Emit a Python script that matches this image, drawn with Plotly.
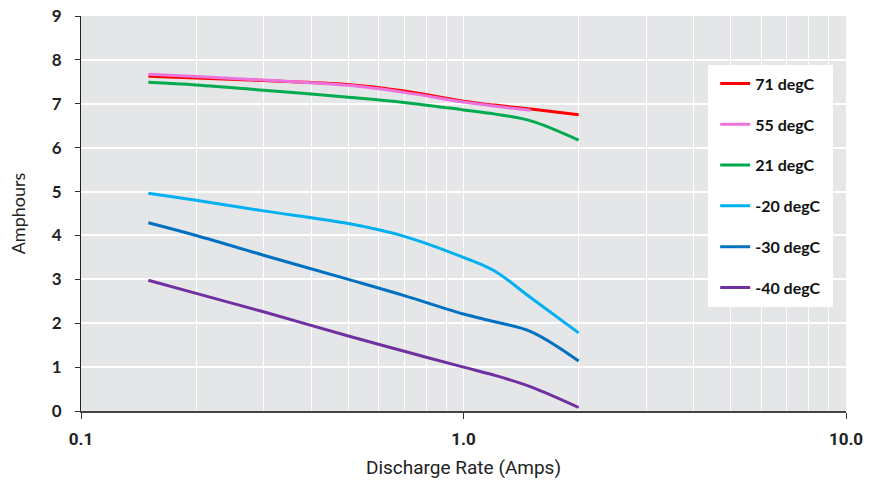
import plotly.graph_objects as go

# Discharge rate (A) at which capacity was measured
rate = [0.15, 0.2, 0.3, 0.5, 0.7, 1.0, 1.2, 1.5, 2.0]
rate_55 = [0.15, 0.2, 0.3, 0.5, 0.7, 1.0, 1.2, 1.5]

# Capacity (Ah) per temperature
ah_71 = [7.63, 7.59, 7.53, 7.44, 7.29, 7.06, 6.97, 6.88, 6.75]
ah_55 = [7.67, 7.62, 7.54, 7.42, 7.26, 7.04, 6.95, 6.85]
ah_21 = [7.49, 7.43, 7.31, 7.15, 7.03, 6.86, 6.77, 6.61, 6.17]
ah_m20 = [4.96, 4.80, 4.56, 4.27, 3.98, 3.50, 3.20, 2.58, 1.78]
ah_m30 = [4.29, 4.00, 3.55, 3.00, 2.63, 2.21, 2.04, 1.81, 1.14]
ah_m40 = [2.98, 2.68, 2.26, 1.71, 1.36, 1.00, 0.82, 0.55, 0.08]

series = [
    ("71 degC", rate, ah_71, "#ff0000"),
    ("55 degC", rate_55, ah_55, "#ee72dc"),
    ("21 degC", rate, ah_21, "#00aa4e"),
    ("-20 degC", rate, ah_m20, "#00b0f0"),
    ("-30 degC", rate, ah_m30, "#0070c0"),
    ("-40 degC", rate, ah_m40, "#7030a0"),
]

x_ticks = [0.1, 1, 10]
x_ticktext = ["0.1", "1.0", "10.0"]
x_minor = [m * d for d in (0.1, 1) for m in range(2, 10)]
y_ticks = list(range(0, 10))

fig = go.Figure()
for i, (name, xs, ys, col) in enumerate(series):
    fig.add_trace(go.Scatter(
        x=xs, y=ys, name=name, mode="lines",
        line=dict(color=col, width=3, shape="spline", smoothing=1.0),
        legendgroup=f"g{i}",
    ))

# white panel behind the legend entries
fig.add_shape(
    type="rect", xref="paper", yref="paper",
    x0=0.8196, x1=0.983, y0=0.263, y1=0.876,
    fillcolor="white", line=dict(width=0), layer="above",
)

cond = "Liberation Sans Narrow, Roboto, sans-serif"
fig.update_layout(
    width=877, height=484,
    margin=dict(l=81, r=31, t=16, b=73),
    paper_bgcolor="white",
    plot_bgcolor="#e5e6e8",
    font=dict(family="Lato, sans-serif", color="#222"),
    showlegend=True,
    legend=dict(
        x=0.829, y=0.872, xanchor="left", yanchor="top",
        bgcolor="rgba(0,0,0,0)", borderwidth=0,
        font=dict(size=16, family="Lato", color="#111", weight="bold"),
        tracegroupgap=17, itemwidth=30,
    ),
    xaxis=dict(
        type="log", range=[-1, 1], automargin=False,
        tickvals=x_ticks, ticktext=x_ticktext,
        ticks="outside", ticklen=6, tickcolor="#333",
        tickfont=dict(size=17, family=cond, color="#222", weight="bold"),
        ticklabelstandoff=6,
        showgrid=True, gridcolor="white", gridwidth=1,
        minor=dict(tickvals=x_minor, showgrid=True, gridcolor="white", gridwidth=1, ticks=""),
        showline=True, linecolor="#444", linewidth=2,
        title=dict(text="Discharge Rate (Amps)", font=dict(size=19, family=cond, color="#222"), standoff=12),
        zeroline=False,
    ),
    yaxis=dict(
        range=[0, 9], tickvals=y_ticks, automargin=False,
        ticks="outside", ticklen=5, tickcolor="#333",
        tickfont=dict(size=17, family="Lato", color="#222", weight="bold"),
        ticklabelstandoff=10,
        showgrid=True, gridcolor="white", gridwidth=1.5,
        showline=True, linecolor="#222", linewidth=1,
        title=dict(text="Amphours", font=dict(size=18, family="Lato", color="#222"), standoff=21),
        zeroline=False,
    ),
)

fig.write_html("out.html")
